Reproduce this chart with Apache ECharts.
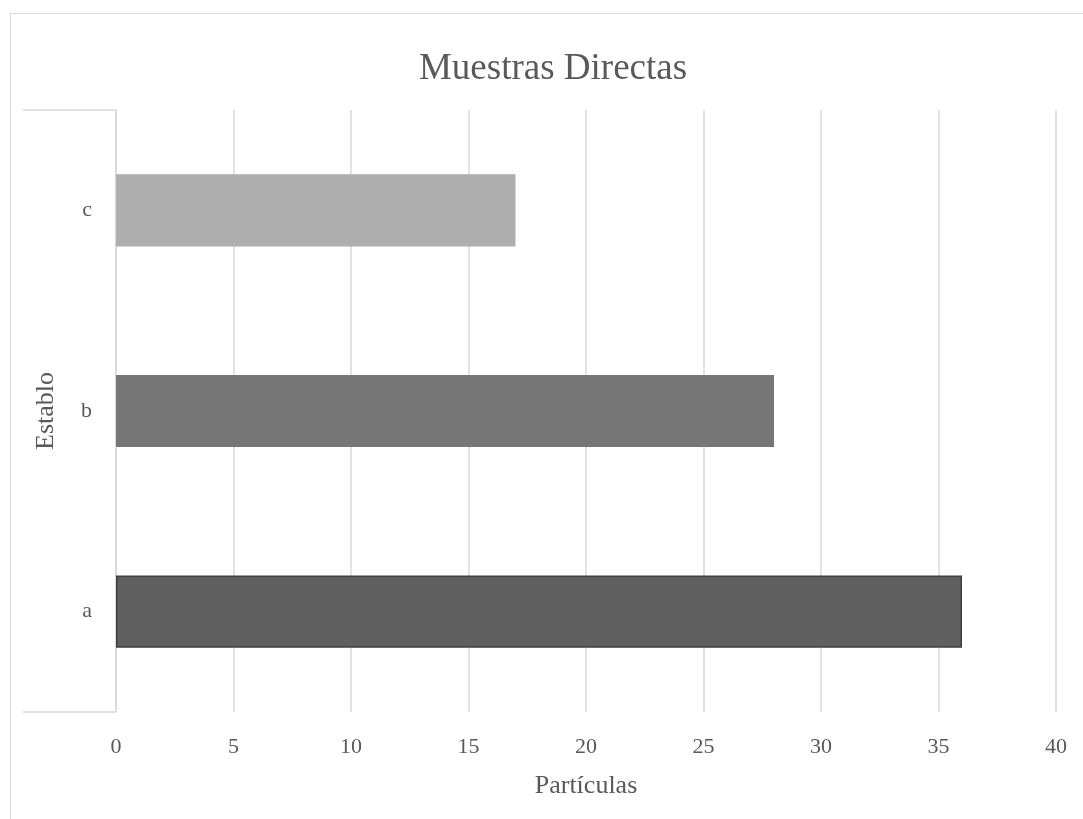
<!DOCTYPE html>
<html>
<head>
<meta charset="utf-8">
<title>Muestras Directas</title>
<script src="https://cdn.jsdelivr.net/npm/echarts@6/dist/echarts.min.js"></script>
<style>
  html, body { margin: 0; padding: 0; background: #ffffff; }
  #frame {
    position: absolute; left: 10px; top: 13px; width: 1200px; height: 900px;
    border: 1.5px solid #d9d9d9; box-sizing: border-box;
  }
  #chart { position: absolute; left: 0; top: 0; width: 1083px; height: 819px; }
</style>
</head>
<body>
<div id="frame"></div>
<div id="chart"></div>
<script>
// Establos y número de partículas por muestra directa
const establos = ['a', 'b', 'c'];
const particulas = [36, 28, 17];
const xTicks = [0, 5, 10, 15, 20, 25, 30, 35, 40];

// Tonos de gris de cada barra
const barColors = ['#5f5f5f', '#767676', '#aeaeae'];
const barBorders = ['#404040', '#767676', '#aeaeae'];

const FONT = '"Liberation Serif", "Times New Roman", serif';
const TEXT = '#595959';
const GRIDC = '#d9d9d9';
const G = { left: 116, right: 27, top: 110, bottom: 107 };
const W = 1083, H = 819;

const chart = echarts.init(document.getElementById('chart'), null, { renderer: 'canvas' });

chart.setOption({
  animation: false,
  backgroundColor: 'transparent',
  title: {
    text: 'Muestras Directas',
    left: 548, top: 46, textAlign: 'center',
    textStyle: { fontFamily: FONT, fontSize: 37, fontWeight: 'normal', color: TEXT }
  },
  grid: G,
  xAxis: {
    type: 'value',
    min: xTicks[0], max: xTicks[xTicks.length - 1], interval: xTicks[1] - xTicks[0],
    name: 'Partículas', nameLocation: 'middle', nameGap: 61,
    nameTextStyle: { fontFamily: FONT, fontSize: 26, color: TEXT },
    axisLine: { show: false },
    axisTick: { show: false },
    axisLabel: { fontFamily: FONT, fontSize: 22, color: TEXT, margin: 24 },
    splitLine: { show: true, lineStyle: { color: GRIDC, width: 1.5 } }
  },
  yAxis: {
    type: 'category',
    data: establos,
    name: 'Establo', nameLocation: 'middle', nameGap: 57, nameRotate: 90,
    nameTextStyle: { fontFamily: FONT, fontSize: 26, color: TEXT },
    axisLine: { show: true, lineStyle: { color: GRIDC, width: 1.5 } },
    axisTick: { show: false },
    axisLabel: { fontFamily: FONT, fontSize: 22, color: TEXT, margin: 24 }
  },
  series: [{
    type: 'bar',
    barWidth: '36%',
    data: particulas.map((v, i) => ({
      value: v,
      itemStyle: {
        color: barColors[i],
        borderColor: barBorders[i],
        borderWidth: i === 0 ? 1.5 : 0
      }
    }))
  }],
  graphic: [
    // Líneas que cierran el bloque de etiquetas del eje de categorías
    { type: 'line', shape: { x1: 23, y1: G.top, x2: G.left, y2: G.top },
      style: { stroke: GRIDC, lineWidth: 1.5 } },
    { type: 'line', shape: { x1: 23, y1: H - G.bottom, x2: G.left, y2: H - G.bottom },
      style: { stroke: GRIDC, lineWidth: 1.5 } }
  ]
});
</script>
</body>
</html>
